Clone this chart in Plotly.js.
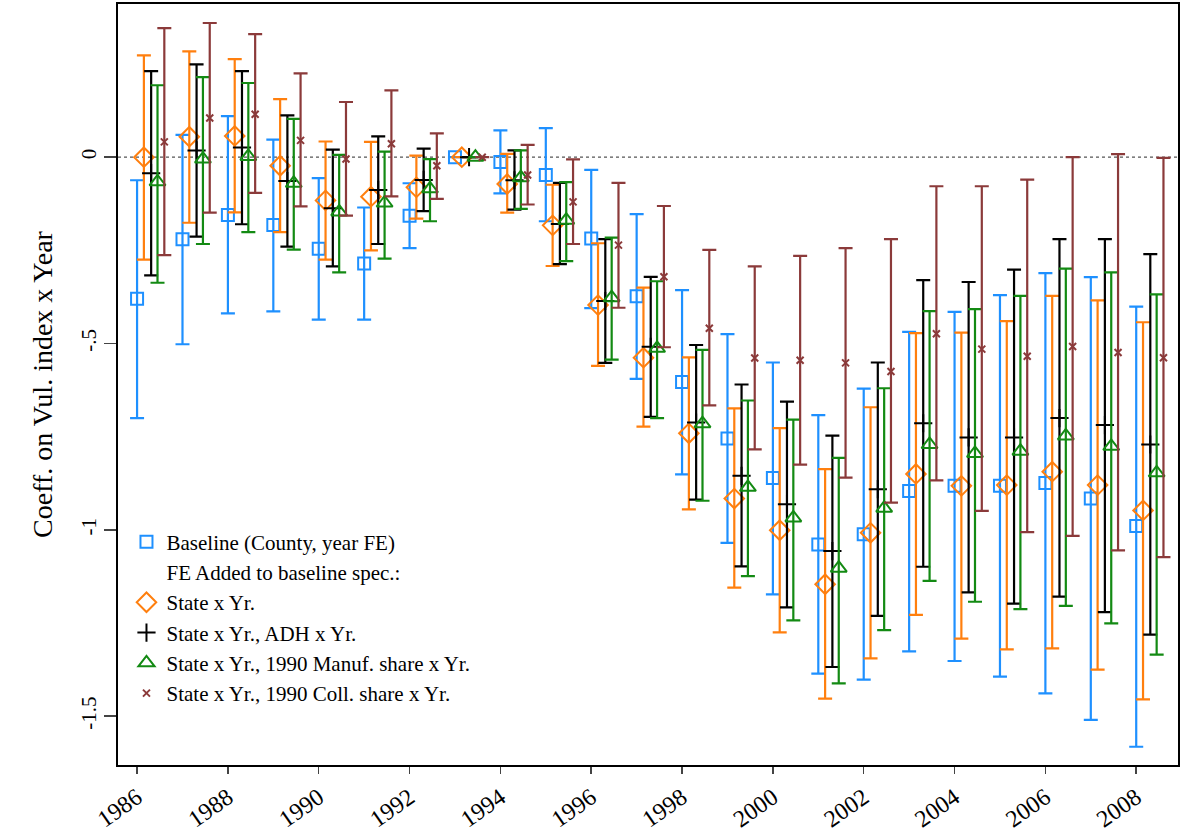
<!DOCTYPE html>
<html>
<head>
<meta charset="utf-8">
<script src="https://cdn.plot.ly/plotly-3.0.1.min.js"></script>
<style>body{margin:0;background:#fff}#chart{width:1180px;height:834px}</style>
</head>
<body>
<div id="chart"></div>
<script>
const years = [1986,1987,1988,1989,1990,1991,1992,1993,1994,1995,1996,1997,1998,1999,2000,2001,2002,2003,2004,2005,2006,2007,2008];

// baseline (County, year FE)
const basePt = [-0.38,-0.22,-0.155,-0.182,-0.246,-0.285,-0.157,0,-0.013,-0.048,-0.218,-0.373,-0.603,-0.755,-0.861,-1.039,-1.012,-0.896,-0.882,-0.882,-0.874,-0.916,-0.99];
const baseLo = [-0.70,-0.502,-0.419,-0.414,-0.436,-0.436,-0.244,0,-0.097,-0.172,-0.405,-0.595,-0.851,-1.035,-1.173,-1.386,-1.402,-1.326,-1.352,-1.394,-1.439,-1.51,-1.582];
const baseHi = [-0.062,0.06,0.11,0.047,-0.056,-0.135,-0.07,0,0.072,0.078,-0.034,-0.153,-0.357,-0.475,-0.551,-0.692,-0.621,-0.469,-0.415,-0.37,-0.311,-0.322,-0.401];

// State x Yr.
const stPt = [0,0.055,0.057,-0.023,-0.116,-0.106,-0.081,0,-0.072,-0.183,-0.397,-0.538,-0.741,-0.916,-1.001,-1.146,-1.008,-0.85,-0.882,-0.88,-0.844,-0.88,-0.948];
const stLo = [-0.275,-0.176,-0.148,-0.201,-0.275,-0.25,-0.165,0,-0.149,-0.292,-0.56,-0.723,-0.945,-1.155,-1.275,-1.453,-1.345,-1.228,-1.292,-1.321,-1.318,-1.375,-1.455];
const stHi = [0.273,0.284,0.263,0.156,0.042,0.041,0.004,0,0.009,-0.074,-0.231,-0.35,-0.537,-0.674,-0.727,-0.837,-0.671,-0.472,-0.471,-0.44,-0.372,-0.384,-0.443];

// State x Yr., ADH x Yr.
const adhPt = [-0.043,0.018,0.026,-0.064,-0.137,-0.088,-0.061,0,-0.062,-0.179,-0.386,-0.509,-0.712,-0.855,-0.931,-1.057,-0.891,-0.714,-0.752,-0.752,-0.7,-0.719,-0.771];
const adhLo = [-0.317,-0.213,-0.18,-0.24,-0.293,-0.233,-0.145,0,-0.141,-0.287,-0.552,-0.697,-0.919,-1.098,-1.208,-1.368,-1.231,-1.099,-1.168,-1.198,-1.179,-1.221,-1.281];
const adhHi = [0.231,0.249,0.231,0.112,0.02,0.056,0.023,0,0.018,-0.069,-0.22,-0.321,-0.504,-0.61,-0.656,-0.747,-0.551,-0.33,-0.335,-0.302,-0.22,-0.22,-0.26];

// State x Yr., 1990 Manuf. share x Yr.
const mfgPt = [-0.066,-0.005,0.002,-0.07,-0.147,-0.123,-0.085,0,-0.055,-0.169,-0.377,-0.513,-0.715,-0.886,-0.968,-1.103,-0.942,-0.771,-0.795,-0.789,-0.748,-0.776,-0.847];
const mfgLo = [-0.337,-0.233,-0.201,-0.248,-0.309,-0.272,-0.172,0,-0.139,-0.279,-0.543,-0.7,-0.922,-1.124,-1.243,-1.412,-1.269,-1.137,-1.193,-1.213,-1.204,-1.251,-1.335];
const mfgHi = [0.193,0.215,0.199,0.103,0.006,0.015,-0.005,0,0.018,-0.067,-0.216,-0.333,-0.517,-0.653,-0.704,-0.807,-0.62,-0.413,-0.408,-0.372,-0.299,-0.309,-0.368];

// State x Yr., 1990 Coll. share x Yr.
const colPt = [0.041,0.105,0.115,0.045,-0.005,0.036,-0.023,0,-0.048,-0.12,-0.236,-0.321,-0.459,-0.539,-0.545,-0.552,-0.575,-0.474,-0.515,-0.534,-0.508,-0.524,-0.538];
const colLo = [-0.263,-0.149,-0.096,-0.132,-0.157,-0.105,-0.112,0,-0.127,-0.233,-0.404,-0.51,-0.666,-0.784,-0.825,-0.86,-0.927,-0.867,-0.949,-1.006,-1.016,-1.055,-1.073];
const colHi = [0.346,0.36,0.33,0.225,0.148,0.179,0.064,0,0.033,-0.006,-0.069,-0.131,-0.249,-0.293,-0.265,-0.244,-0.22,-0.078,-0.078,-0.06,0,0.008,-0.002];

const tickYears = [1986,1988,1990,1992,1994,1996,1998,2000,2002,2004,2006,2008];

function series(name, pt, lo, hi, shift, color, symbol, size) {
  return {
    type: 'scatter', mode: 'markers', name: name,
    x: years.map(y => y + shift), y: pt,
    marker: {symbol: symbol, size: size, color: color, line: {color: color, width: 2}},
    error_y: {type: 'data', symmetric: false,
      array: hi.map((h, i) => h - pt[i]),
      arrayminus: pt.map((p, i) => p - lo[i]),
      color: color, thickness: 2.2, width: 7}
  };
}

const data = [
  series('Baseline (County, year FE)', basePt, baseLo, baseHi, 0, '#1e90ff', 'square-open', 12),
  {type: 'scatter', mode: 'markers', name: 'FE Added to baseline spec.:', x: [null], y: [null],
   marker: {color: 'rgba(0,0,0,0)', size: 1}},
  series('State x Yr.', stPt, stLo, stHi, 0.15, '#ff7f0e', 'diamond-open', 15),
  series('State x Yr., ADH x Yr.', adhPt, adhLo, adhHi, 0.31, '#000000', 'cross-thin-open', 13),
  series('State x Yr., 1990 Manuf. share x Yr.', mfgPt, mfgLo, mfgHi, 0.45, '#138a13', 'triangle-up-open', 14),
  series('State x Yr., 1990 Coll. share x Yr.', colPt, colLo, colHi, 0.6, '#8b3a3a', 'x-thin-open', 7)
];

const layout = {
  width: 1180, height: 834,
  margin: {l: 118, r: 2, t: 4, b: 69},
  paper_bgcolor: '#fff', plot_bgcolor: '#fff',
  font: {family: 'Liberation Serif, serif', color: '#000'},
  showlegend: true,
  legend: {x: 0.008, y: 0.32, xanchor: 'left', yanchor: 'top', bgcolor: 'rgba(0,0,0,0)',
    font: {size: 21, family: 'Liberation Serif, serif'}, tracegroupgap: 0, itemwidth: 30},
  xaxis: {range: [1985.58, 2008.92], tickvals: tickYears, ticktext: tickYears.map(String),
    tickangle: -35, ticks: 'outside', ticklen: 7, tickwidth: 1.5, tickfont: {size: 24},
    showgrid: false, zeroline: false, showline: true, linewidth: 2, linecolor: '#000', mirror: true},
  yaxis: {range: [-1.631, 0.411], tickvals: [0, -0.5, -1, -1.5], ticktext: ['0', '-.5', '-1', '-1.5'],
    tickangle: -90, ticks: 'outside', ticklen: 12, tickwidth: 1.5, tickfont: {size: 21},
    title: {text: 'Coeff. on Vul. index x Year', font: {size: 28}, standoff: 16},
    showgrid: false, zeroline: false, showline: true, linewidth: 2, linecolor: '#000', mirror: true},
  shapes: [{type: 'line', xref: 'paper', x0: 0, x1: 1, yref: 'y', y0: 0, y1: 0,
    line: {color: '#555', width: 1.2, dash: 'dot'}, layer: 'below'}]
};

Plotly.newPlot('chart', data, layout, {displayModeBar: false, staticPlot: true});
</script>
</body>
</html>
